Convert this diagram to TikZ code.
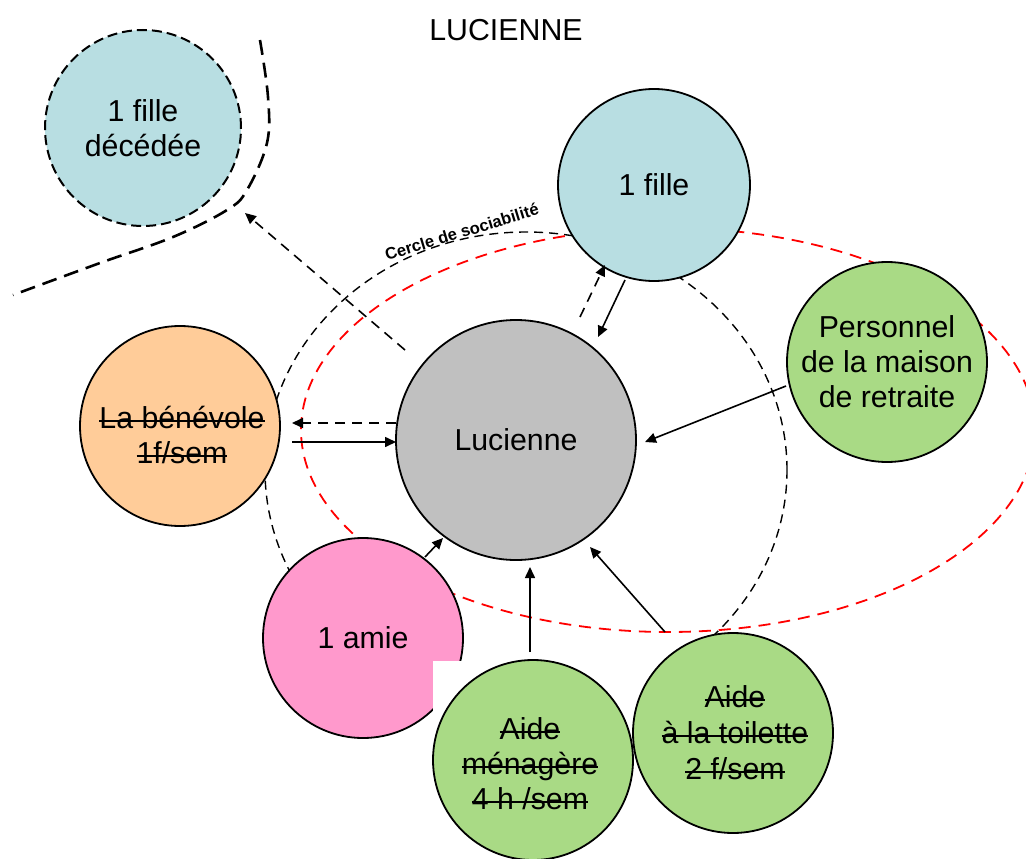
\documentclass[tikz,border=0pt]{standalone}
\usepackage{fontspec}
\setmainfont{Liberation Sans}
\usetikzlibrary{arrows.meta,calc}

% struck-through text
\newsavebox{\strkbox}
\newcommand{\strk}[1]{\sbox{\strkbox}{#1}%
  \rlap{\rule[0.22em]{\wd\strkbox}{1.7pt}}\usebox{\strkbox}}

\definecolor{paleblue}{HTML}{B8DEE2}
\definecolor{greyfill}{HTML}{C0C0C0}
\definecolor{peach}{HTML}{FFCC99}
\definecolor{leafgreen}{HTML}{A9DA85}
\definecolor{rosepink}{HTML}{FF99CC}

\tikzset{
  bigfont/.style={font=\fontsize{30.3}{35}\selectfont},
  bubble/.style={circle, draw=black, line width=1.8pt, minimum size=200pt,
    inner sep=0pt, align=center, bigfont},
  label/.style={align=center, bigfont},
  link/.style={line width=1.6pt, -{Triangle[length=11pt,width=10pt]}},
  dlink/.style={link, dash pattern=on 10pt off 7pt},
  ring/.style={line width=1.4pt, dash pattern=on 9pt off 6pt},
  redring/.style={red, line width=1.8pt, dash pattern=on 12pt off 8pt},
  border/.style={line width=2.6pt, dash pattern=on 15pt off 8pt},
}

\begin{document}
\begin{tikzpicture}[x=1pt,y=-1pt]
\useasboundingbox (0,0) rectangle (1026,859);
\clip (0,0) rectangle (1026,859);

% title
\node[bigfont] (title) at (506,30) {LUCIENNE};

% dividing line around the deceased daughter
\draw[border] plot[smooth, tension=0.6] coordinates
  {(260,40) (268,97) (267,143) (247,190) (227,210) (173,237) (100,263) (13,295)};

% social circle (open at the bottom) and the red ring
\begin{scope}
  \clip (0,0) rectangle (1026,650);
  \draw[ring] (526,470) ellipse [x radius=261pt, y radius=238pt];
\end{scope}
\draw[redring] (668,430) ellipse [x radius=367pt, y radius=202pt];

\node[anchor=base west, rotate=17, inner sep=0pt,
  font=\fontsize{16.5}{18}\selectfont\bfseries] (circlename) at (387,261)
  {Cercle de sociabilité};

% people
\node[bubble, fill=paleblue, dashed, dash pattern=on 10pt off 5pt,
  line width=2pt, minimum size=196pt] (deceased) at (143,128) {1 fille\\décédée};
\node[bubble, fill=paleblue, minimum size=192pt] (fille) at (654,185) {1 fille};
\node[bubble, fill=greyfill, minimum size=240pt] (lucienne) at (516,440) {Lucienne};
\node[bubble, fill=peach] (benevole) at (180,426) {};
\node[label] (benevoletext) at (182,435)
  {\strk{La bénévole}\\\strk{1f/sem}};
\node[bubble, fill=leafgreen] (personnel) at (887,362)
  {Personnel\\de la maison\\de retraite};
\node[bubble, fill=rosepink] (amie) at (363,638) {1 amie};
\fill[white] (433,661) rectangle (520,745);
\node[bubble, fill=leafgreen] (menagere) at (533,760) {};
\node[label] (menageretext) at (530,764)
  {\strk{Aide}\\\strk{ménagère}\\\strk{4 h /sem}};
\node[bubble, fill=leafgreen] (toilette) at (733,733) {};
\node[label, font=\fontsize{30.3}{36}\selectfont] (toilettetext) at (735,733)
  {\strk{Aide}\\\strk{à la toilette}\\\strk{2 f/sem}};

% relations
\draw[dlink] ($(lucienne)+(-111,-90)$) -- ($(deceased)+(102,85)$);
\draw[link] ($(fille)+(-29,95)$) -- ($(lucienne)+(82,-103)$);
\draw[dlink] ($(lucienne)+(64,-123)$) -- ($(fille)+(-49,80)$);
\draw[dlink] ($(lucienne)+(-120,-17)$) -- ($(benevole)+(112,-3)$);
\draw[link] ($(benevole)+(112,16)$) -- ($(lucienne)+(-120,2)$);
\draw[link] ($(personnel)+(-101,24)$) -- ($(lucienne)+(129,2)$);
\draw[link] ($(amie)+(62,-81)$) -- ($(lucienne)+(-73,98)$);
\draw[link] ($(menagere)+(-3,-108)$) -- ($(lucienne)+(14,127)$);
\draw[link] ($(toilette)+(-68,-101)$) -- ($(lucienne)+(74,107)$);
\end{tikzpicture}
\end{document}
